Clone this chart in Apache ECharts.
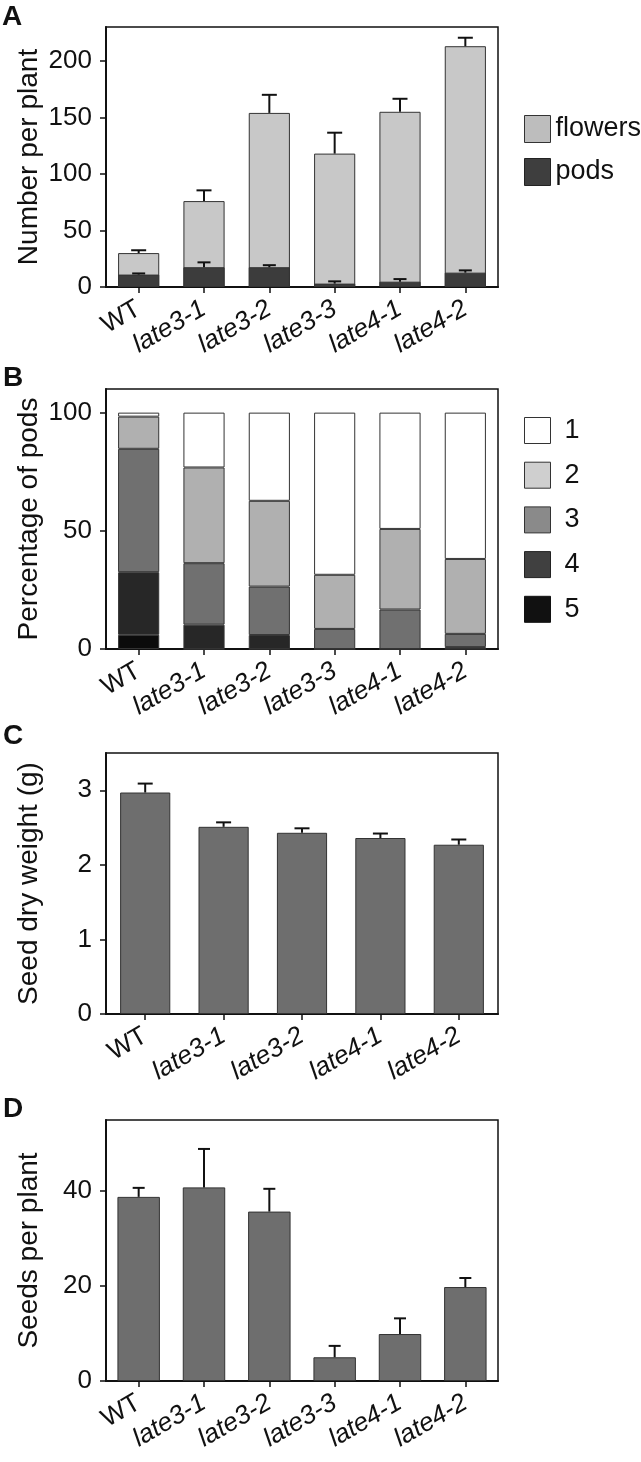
<!DOCTYPE html>
<html>
<head>
<meta charset="utf-8">
<script src="https://cdn.jsdelivr.net/npm/echarts@6/dist/echarts.min.js"></script>
<style>html,body{margin:0;padding:0;background:#fff}#c{width:641px;height:1462px}</style>
</head>
<body>
<div id="c"></div>
<script>
// ---- Data ----
const catsA = ['WT', 'late3-1', 'late3-2', 'late3-3', 'late4-1', 'late4-2'];
const flowers = [30, 76, 154, 118, 155, 213];
const flowersErr = [2.5, 9.5, 16, 18.5, 11.5, 7.5];
const pods = [11, 17.5, 17.5, 3, 4.7, 12.7];
const podsErr = [1, 4.3, 1.8, 2, 2.3, 2];
const ticksA = [0, 50, 100, 150, 200];

const catsB = ['WT', 'late3-1', 'late3-2', 'late3-3', 'late4-1', 'late4-2'];
const pct1 = [1.7, 23.2, 37.3, 68.6, 49.2, 61.9];
const pct2 = [13.6, 40.5, 36.3, 22.9, 34.1, 31.7];
const pct3 = [52.2, 26.0, 20.5, 8.5, 16.7, 5.6];
const pct4 = [26.5, 10.3, 5.9, 0, 0, 0.8];
const pct5 = [6.0, 0, 0, 0, 0, 0];
const ticksB = [0, 50, 100];

const catsC = ['WT', 'late3-1', 'late3-2', 'late4-1', 'late4-2'];
const weight = [2.97, 2.51, 2.43, 2.36, 2.27];
const weightErr = [0.12, 0.06, 0.06, 0.06, 0.07];
const ticksC = [0, 1, 2, 3];

const catsD = ['WT', 'late3-1', 'late3-2', 'late3-3', 'late4-1', 'late4-2'];
const seeds = [38.8, 40.8, 35.7, 5.0, 9.9, 19.8];
const seedsErr = [1.9, 8.1, 4.8, 2.4, 3.3, 1.9];
const ticksD = [0, 20, 40];

// ---- Styling ----
const FONT = "'Liberation Sans', Arial, sans-serif";
const TXT = '#111';
const chart = echarts.init(document.getElementById('c'), null, {renderer: 'canvas'});

function gridAt(top, height) {
  return {left: 106, width: 392, top: top, height: height, show: true,
    borderColor: '#111', borderWidth: 1.5, backgroundColor: 'transparent'};
}
function xAx(idx, cats) {
  return {type: 'category', gridIndex: idx, data: cats,
    axisLine: {lineStyle: {color: '#111', width: 2}},
    axisTick: {show: true, alignWithLabel: true, length: 6, lineStyle: {color: '#111', width: 1.5}},
    axisLabel: {interval: 0, rotate: 30, margin: 20,
      formatter: v => v === 'WT' ? '{n|' + v + '}' : '{i|' + v + '}',
      rich: {n: {fontFamily: FONT, fontSize: 26, color: TXT},
             i: {fontFamily: FONT, fontSize: 26, color: TXT, fontStyle: 'italic'}}},
    splitLine: {show: false}};
}
function yAx(idx, max, ticks, name, gap) {
  return {type: 'value', gridIndex: idx, min: 0, max: max,
    name: name, nameLocation: 'middle', nameGap: gap, nameRotate: 90, nameMoveOverlap: false,
    nameTextStyle: {fontFamily: FONT, fontSize: 28, color: TXT},
    axisLine: {show: true, lineStyle: {color: '#111', width: 2}},
    axisTick: {show: true, length: 6, customValues: ticks, lineStyle: {color: '#111', width: 1.5}},
    axisLabel: {customValues: ticks, margin: 14, fontFamily: FONT, fontSize: 26, color: TXT},
    splitLine: {show: false}};
}
function errRender(capW) {
  return function (params, api) {
    const x = api.value(0), v = api.value(1), e = api.value(2);
    const b = api.coord([x, v]);
    const t = api.coord([x, v + e]);
    return {type: 'group', children: [
      {type: 'line', shape: {x1: b[0], y1: b[1], x2: t[0], y2: t[1]}, style: {stroke: '#111', lineWidth: 2}},
      {type: 'line', shape: {x1: t[0] - capW / 2, y1: t[1], x2: t[0] + capW / 2, y2: t[1]}, style: {stroke: '#111', lineWidth: 2}}
    ]};
  };
}
function errData(vals, errs) { return vals.map((v, i) => [i, v, errs[i]]); }
function errSeries(xi, vals, errs, capW) {
  return {type: 'custom', xAxisIndex: xi, yAxisIndex: xi, renderItem: errRender(capW),
    data: errData(vals, errs), z: 5, silent: true, encode: {x: 0, y: 1}};
}
const barBorder = {borderColor: '#333', borderWidth: 1};

function stackBar(name, data, color) {
  return {name: name, type: 'bar', xAxisIndex: 1, yAxisIndex: 1, stack: 'pct', data: data,
    barWidth: '63%', itemStyle: Object.assign({color: color}, barBorder)};
}

const option = {
  animation: false,
  backgroundColor: '#fff',
  textStyle: {fontFamily: FONT},
  grid: [gridAt(27, 260), gridAt(389, 260), gridAt(753, 261), gridAt(1120, 261)],
  xAxis: [xAx(0, catsA), xAx(1, catsB), xAx(2, catsC), xAx(3, catsD)],
  yAxis: [
    yAx(0, 230, ticksA, 'Number per plant', 63),
    yAx(1, 110, ticksB, 'Percentage of pods', 63),
    yAx(2, 3.5, ticksC, 'Seed dry weight (g)', 63),
    yAx(3, 55, ticksD, 'Seeds per plant', 63)
  ],
  legend: [
    {orient: 'vertical', left: 524, top: 115, padding: 0, itemWidth: 26, itemHeight: 27, itemGap: 15,
      icon: 'rect', selectedMode: false,
      textStyle: {fontFamily: FONT, fontSize: 27, color: TXT, lineHeight: 27},
      data: [
        {name: 'flowers', itemStyle: {color: '#bdbdbd', borderColor: '#333', borderWidth: 1}},
        {name: 'pods', itemStyle: {color: '#3e3e3e', borderColor: '#222', borderWidth: 1}}
      ]},
    {orient: 'vertical', left: 524, top: 417, padding: 0, itemWidth: 26, itemHeight: 26, itemGap: 17.7,
      icon: 'rect', selectedMode: false,
      textStyle: {fontFamily: FONT, fontSize: 27, color: TXT, lineHeight: 26, padding: [0, 0, 0, 9]},
      data: [
        {name: '1', itemStyle: {color: '#ffffff', borderColor: '#333', borderWidth: 1}},
        {name: '2', itemStyle: {color: '#cfcfcf', borderColor: '#333', borderWidth: 1}},
        {name: '3', itemStyle: {color: '#8a8a8a', borderColor: '#333', borderWidth: 1}},
        {name: '4', itemStyle: {color: '#404040', borderColor: '#222', borderWidth: 1}},
        {name: '5', itemStyle: {color: '#111111', borderColor: '#111', borderWidth: 1}}
      ]}
  ],
  graphic: [
    {type: 'text', left: 2, top: 3, style: {text: 'A', font: 'bold 28px ' + FONT, fill: TXT}},
    {type: 'text', left: 3, top: 364, style: {text: 'B', font: 'bold 28px ' + FONT, fill: TXT}},
    {type: 'text', left: 3, top: 722, style: {text: 'C', font: 'bold 28px ' + FONT, fill: TXT}},
    {type: 'text', left: 3, top: 1095, style: {text: 'D', font: 'bold 28px ' + FONT, fill: TXT}}
  ],
  series: [
    {name: 'flowers', type: 'bar', xAxisIndex: 0, yAxisIndex: 0, data: flowers, barWidth: '63%',
      barGap: '-100%', itemStyle: Object.assign({color: '#c8c8c8'}, barBorder)},
    {name: 'pods', type: 'bar', xAxisIndex: 0, yAxisIndex: 0, data: pods, barWidth: '63%',
      barGap: '-100%', itemStyle: Object.assign({color: '#3c3c3c'}, barBorder)},
    errSeries(0, flowers, flowersErr, 15),
    errSeries(0, pods, podsErr, 13),

    stackBar('5', pct5, '#0b0b0b'),
    stackBar('4', pct4, '#272727'),
    stackBar('3', pct3, '#707070'),
    stackBar('2', pct2, '#b0b0b0'),
    stackBar('1', pct1, '#ffffff'),

    {name: 'weight', type: 'bar', xAxisIndex: 2, yAxisIndex: 2, data: weight, barWidth: '64%',
      itemStyle: Object.assign({color: '#6e6e6e'}, barBorder)},
    errSeries(2, weight, weightErr, 15),

    {name: 'seeds', type: 'bar', xAxisIndex: 3, yAxisIndex: 3, data: seeds, barWidth: '65%',
      itemStyle: Object.assign({color: '#6e6e6e'}, barBorder)},
    errSeries(3, seeds, seedsErr, 12)
  ]
};
chart.setOption(option);
</script>
</body>
</html>
